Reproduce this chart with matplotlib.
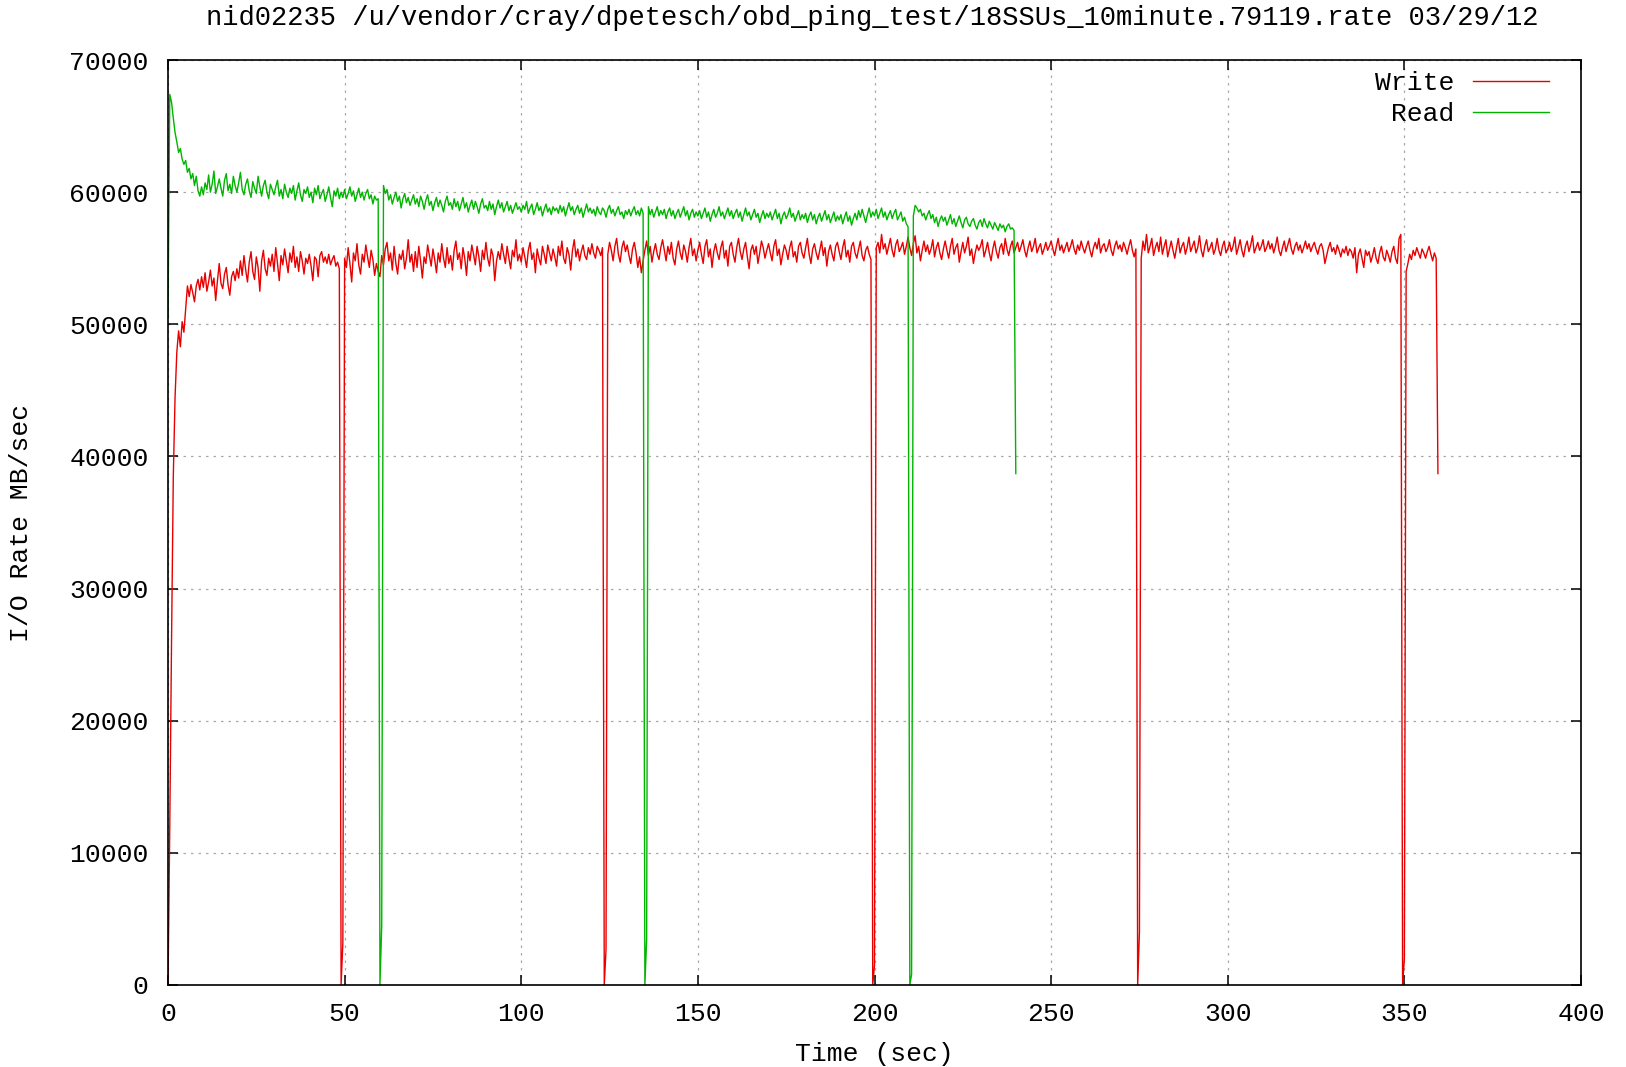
import numpy as np
import matplotlib
matplotlib.use("Agg")
import matplotlib.pyplot as plt

# sample spacing of the rate log (sec)
sample_step = 0.5

title = "nid02235 /u/vendor/cray/dpetesch/obd_ping_test/18SSUs_10minute.79119.rate 03/29/12"

# Write rate MB/sec, one value per 0.5 s, t = 0 .. 359.5
write_rate = [
    0, 12000, 26000, 38500, 44500, 47900, 49500, 48300, 50200, 49400, 51200, 52900, 52100, 53000, 52400, 51700, 52900, 53400, 52600, 53600,
    52800, 53900, 52500, 53200, 54100, 52900, 53500, 51800, 53300, 54600, 53100, 52700, 53800, 54300, 53000, 52200, 53600, 54000, 53300, 54200,
    53500, 54800, 53700, 55200, 54100, 53200, 54700, 55500, 54000, 53400, 55100, 54300, 52500, 54800, 55600, 54200, 53700, 55000, 54400, 55300,
    54000, 55800, 54600, 53300, 55200, 54500, 55700, 54800, 53900, 55400, 54700, 55900, 54300, 55100, 54000, 55500, 54800, 53800, 55000, 54600,
    55300, 54400, 53300, 55100, 54900, 53600, 55200, 55500, 54700, 55100, 54600, 55300, 54500, 54900, 55200, 54400, 54700, 54200, 0, 3200,
    55000, 54300, 55800, 54600, 53200, 55400, 54800, 56100, 54500, 53800, 55300, 54700, 56000, 55100, 54300, 55600, 54900, 53700, 54600, 54000,
    53600, 55200, 54500, 55700, 56200, 54800, 55400, 54100, 55900, 54600, 53800, 55300, 54900, 55600, 54200, 55000, 56400, 54700, 55300, 54000,
    55500, 54300, 55900, 54800, 53500, 55100, 54600, 56000, 55200, 54400, 55700, 54900, 53900, 55400, 54700, 56100, 55000, 54300, 55800, 54600,
    55200, 54100, 55600, 56300, 54900, 55400, 54200, 55800, 55000, 53700, 55500, 54800, 56000, 55300, 54500, 55900, 55100, 54000, 55600, 54900,
    56200, 55000, 54400, 55700, 55200, 53300, 54800, 55500, 54900, 56100, 55300, 54600, 55900, 55000, 54200, 55600, 55100, 56400, 54800, 55300,
    54700, 55800, 55100, 54300, 55600, 56200, 54900, 55400, 53900, 55700, 55000, 54500, 55900, 55300, 54600, 56000, 55400, 54800, 55700, 55100,
    54400, 55900, 55200, 56300, 55000, 54600, 55800, 55300, 54100, 55600, 56400, 55100, 55700, 54800, 55500, 56000, 55200, 54900, 55800, 55300,
    56100, 55400, 55000, 55900, 55600, 55200, 55800, 0, 2700, 55300, 56200, 55600, 54800, 55900, 56500, 55300, 54700, 55800, 56300, 55500,
    56000, 55200, 54600, 55700, 56200, 55400, 54300, 55100, 53900, 54800, 55600, 56300, 55200, 55900, 54700, 55500, 56100, 55300, 54900, 55800,
    56400, 55600, 54800, 55900, 55300, 56200, 55000, 54500, 55700, 56300, 55400, 54900, 56000, 55500, 54700, 55800, 56500, 55200, 55700, 54800,
    55600, 56200, 55300, 54600, 55900, 56400, 55100, 55700, 54300, 55500, 56100, 55400, 54900, 55800, 56300, 55000, 55600, 54400, 55900, 56200,
    55300, 54700, 55800, 56500, 55500, 54900, 55700, 56200, 55100, 54200, 55600, 56000, 55300, 55900, 54600, 55400, 56300, 55800, 55000, 55600,
    56100, 55400, 54800, 55900, 56400, 55200, 55700, 54500, 55300, 56000, 55600, 54900, 55800, 56300, 55100, 55500, 54700, 55900, 56200, 55400,
    55000, 55800, 56500, 55300, 54600, 55700, 56100, 55400, 54900, 55600, 56300, 55200, 55800, 54400, 55500, 56000, 55300, 54800, 55900, 56200,
    55500, 54900, 55800, 56400, 55100, 55600, 54700, 55900, 56200, 55400, 55000, 55700, 56300, 55200, 54800, 55600, 55900, 55300, 54900, 0,
    1500, 55800, 56200, 55400, 56800, 55700, 56100, 55300, 55900, 56500, 55600, 55100, 56000, 56400, 55500, 55800, 56200, 55300, 55900, 56600,
    55800, 55200, 56100, 56700, 55400, 55900, 54800, 55600, 56300, 55500, 56000, 55300, 55700, 56400, 55100, 55800, 56200, 55400, 54900, 55700,
    56300, 55600, 55000, 55900, 56500, 55300, 55800, 56100, 54700, 55500, 56200, 55400, 55900, 56600, 55200, 55700, 54600, 55400, 56000, 55600,
    55900, 56400, 55100, 55600, 56200, 55400, 54800, 55700, 56300, 55500, 55000, 55800, 56100, 55300, 56500, 55700, 55200, 55900, 56300, 55400,
    55800, 56200, 55500, 55900, 56400, 55600, 55100, 55800, 56300, 55500, 55900, 56500, 55400, 55800, 56100, 55300, 55700, 56200, 55600, 55900,
    56300, 55700, 55200, 55900, 56500, 55600, 56000, 55400, 55800, 56200, 55500, 55900, 56400, 55700, 55300, 56000, 55600, 56300, 55800, 55400,
    55900, 56300, 55600, 55100, 55800, 56200, 55700, 56500, 55400, 55900, 56100, 55500, 55800, 56400, 55600, 55200, 55900, 56300, 55700, 56000,
    55500, 56200, 55800, 55300, 55900, 56400, 55600, 55100, 55700, 0, 4000, 55000, 56300, 55600, 56800, 55400, 55900, 56500, 55200, 55800,
    56200, 55500, 56600, 55300, 55900, 56400, 55100, 55700, 56300, 55600, 55000, 55800, 56500, 55400, 55900, 56200, 55300, 55800, 56600, 55500,
    55900, 56300, 55400, 55800, 56700, 55600, 55100, 55900, 56400, 55500, 55800, 56200, 55300, 55700, 56500, 55600, 55200, 55900, 56300, 55400,
    55700, 56200, 55500, 55900, 56600, 55300, 55800, 56400, 55600, 55100, 55900, 56300, 55500, 56000, 56700, 55400, 55800, 56200, 55600, 55900,
    56400, 55500, 55800, 56300, 55700, 56100, 55400, 55900, 56600, 55600, 55200, 55800, 56300, 55500, 56000, 56500, 55700, 55300, 55900, 56200,
    55600, 56000, 55400, 55800, 56300, 55700, 56100, 55500, 55900, 56200, 55700, 55300, 55900, 56100, 55600, 54600, 55200, 55800, 56200, 55500,
    55800, 55300, 56000, 55600, 55100, 55700, 55400, 55900, 55200, 55700, 55500, 55000, 55800, 53900, 55300, 55700, 55000, 54300, 55600, 55200,
    55500, 54700, 55200, 55800, 55000, 54600, 55400, 55900, 55100, 54800, 55600, 55200, 54700, 55500, 55900, 55000, 54600, 56500, 56800, 0,
    2000, 54000, 54600, 55300, 54900, 55600, 55200, 55800, 55400, 55000, 55700, 55400, 55000, 55500, 55900, 55300, 54800, 55400, 55000, 38700,
]

# Read rate MB/sec, one value per 0.5 s, t = 0 .. 240
read_rate = [
    50500, 67400, 66800, 65600, 64500, 63800, 63000, 63300, 62500, 62100, 62400, 61500, 61800, 61000, 61400, 60500, 61200, 60100, 59700, 60400,
    59800, 60700, 60200, 61300, 60000, 60600, 61600, 59900, 60400, 61000, 60300, 59700, 60900, 61400, 60100, 60600, 59900, 61200, 60500, 60000,
    60700, 61500, 60200, 59800, 60600, 61000, 60100, 59600, 60800, 60300, 59900, 61200, 60400, 59700, 60500, 60900, 60000, 59500, 60600, 60200,
    59800, 60400, 60900, 59700, 60200, 59500, 60600, 60000, 59600, 60300, 59900, 60500, 59400, 60100, 60700, 59800, 59300, 60200, 59900, 60400,
    59600, 60000, 59200, 60300, 59800, 60500, 59500, 59900, 60200, 59300, 59800, 60400, 59600, 58900, 60100, 59700, 60300, 59500, 60000, 59600,
    60200, 59500, 59900, 60400, 59700, 60100, 59300, 59800, 60300, 59600, 60000, 59400, 59900, 60200, 59500, 59800, 59100, 59700, 59400, 59500,
    0, 4500, 60500, 59900, 60200, 59400, 59800, 59100, 59600, 60000, 59300, 59700, 58800, 59500, 59900, 59200, 59600, 59000, 59400, 59800,
    59100, 59500, 58900, 59700, 59300, 58700, 59400, 59800, 59000, 59300, 58600, 59200, 59600, 58900, 59400, 59000, 58500, 59300, 59700, 59000,
    59200, 58700, 59500, 58900, 59300, 58600, 59100, 59600, 58800, 59200, 58500, 59000, 59400, 58700, 59300, 58900, 58400, 59100, 59500, 58800,
    59000, 58600, 59300, 58700, 59100, 58300, 58900, 59400, 58800, 59200, 58500, 58900, 59300, 58600, 59000, 58400, 58800, 59200, 58700, 58900,
    58500, 59000, 58700, 59300, 58400, 58800, 59100, 58300, 58700, 59200, 58600, 58900, 58200, 58700, 59100, 58500, 58800, 58300, 58900, 58600,
    58800, 58400, 59000, 58500, 58900, 58200, 58700, 59200, 58600, 58900, 58300, 58700, 59000, 58400, 58800, 58100, 58600, 59100, 58500, 58800,
    58400, 58700, 58200, 58900, 58500, 58300, 58800, 58600, 58100, 58700, 59000, 58400, 58700, 58200, 58600, 58900, 58300, 58500, 58000, 58600,
    58300, 58700, 58200, 58600, 58900, 58300, 58600, 58200, 58800, 58400, 0, 3500, 58900, 58300, 58700, 58100, 58500, 58900, 58200, 58600,
    58300, 58700, 58000, 58500, 58800, 58200, 58600, 58000, 58400, 58700, 58100, 58500, 58900, 58200, 58600, 57900, 58400, 58700, 58100, 58500,
    58200, 58600, 58000, 58400, 58800, 58100, 58500, 57800, 58300, 58700, 58100, 58400, 58900, 58200, 58500, 58000, 58400, 58800, 58200, 58600,
    58000, 58400, 58700, 58100, 58500, 57800, 58300, 58800, 58200, 58500, 57900, 58300, 58700, 58100, 58400, 57700, 58200, 58600, 58000, 58400,
    58100, 58500, 57900, 58300, 58700, 58000, 58400, 57600, 58200, 58500, 58000, 58300, 58800, 58100, 58400, 57800, 58200, 58600, 57900, 58300,
    58000, 58400, 57700, 58200, 58500, 57900, 58300, 57600, 58100, 58400, 57800, 58200, 58600, 57900, 58300, 57700, 58100, 58500, 57800, 58200,
    57900, 58300, 57600, 58100, 58500, 57800, 58200, 57500, 58000, 58400, 57900, 58600, 58100, 58700, 58200, 57700, 58300, 58800, 58100, 58500,
    58200, 58700, 58000, 58400, 58800, 58100, 58500, 57900, 58300, 58600, 58000, 58400, 58700, 57900, 58200, 58500, 57800, 58100, 57600, 57400,
    0, 800, 58200, 59000, 58800, 58500, 58700, 58200, 58400, 57900, 58300, 58600, 58000, 58300, 57700, 58100, 57400, 57900, 58200, 57800,
    58100, 57500, 57900, 58300, 57600, 58000, 57400, 57800, 58200, 57700, 57300, 57900, 58100, 57600, 57400, 57800, 58000, 57500, 57200, 57700,
    57900, 57400, 58000, 57600, 57300, 57800, 57500, 57200, 57700, 57400, 57100, 57600, 57300, 57500, 57000, 57400, 57600, 57200, 57300, 57100,
    38700,
]

t_write = np.arange(len(write_rate)) * sample_step
t_read = np.arange(len(read_rate)) * sample_step

plt.rcParams['font.family'] = ['Liberation Mono', 'DejaVu Sans Mono']
plt.rcParams['font.size'] = 19

fig = plt.figure(figsize=(16.26, 10.67), dpi=100)
ax = fig.add_axes([168/1626, 1 - 985/1067, (1581 - 168)/1626, (985 - 60)/1067])

ax.plot(t_write, write_rate, color='#e80000', lw=1.0, label="Write")
ax.plot(t_read, read_rate, color='#00b400', lw=1.0, label=" Read")

ax.set_xlim(0, 400)
ax.set_ylim(0, 70000)
ax.set_xticks(np.arange(0, 401, 50))
ax.set_yticks(np.arange(0, 70001, 10000))
ax.tick_params(direction='in', length=7, width=1.1, top=True, right=True, labelsize=19)
ax.tick_params(axis='y', pad=14)
ax.tick_params(axis='x', pad=12)
for s in ax.spines.values():
    s.set_linewidth(1.2)
    s.set_color('black')

ax.grid(True, color='#a8a8a8', linestyle=(0, (2, 4)), linewidth=0.9)
ax.set_axisbelow(True)

ax.set_xlabel("Time (sec)", labelpad=12)
ax.set_ylabel("I/O Rate MB/sec", labelpad=26)
fig.text(872/1626, 1 - 18/1067, title, ha='center', va='center', fontsize=19.5)

leg = ax.legend(loc='upper right', bbox_to_anchor=(0.9774, 0.988), frameon=False,
                markerfirst=False, handlelength=2.9, handletextpad=0.7,
                labelspacing=0.28, borderpad=0, borderaxespad=0)

fig.savefig("out.png", dpi=100)
